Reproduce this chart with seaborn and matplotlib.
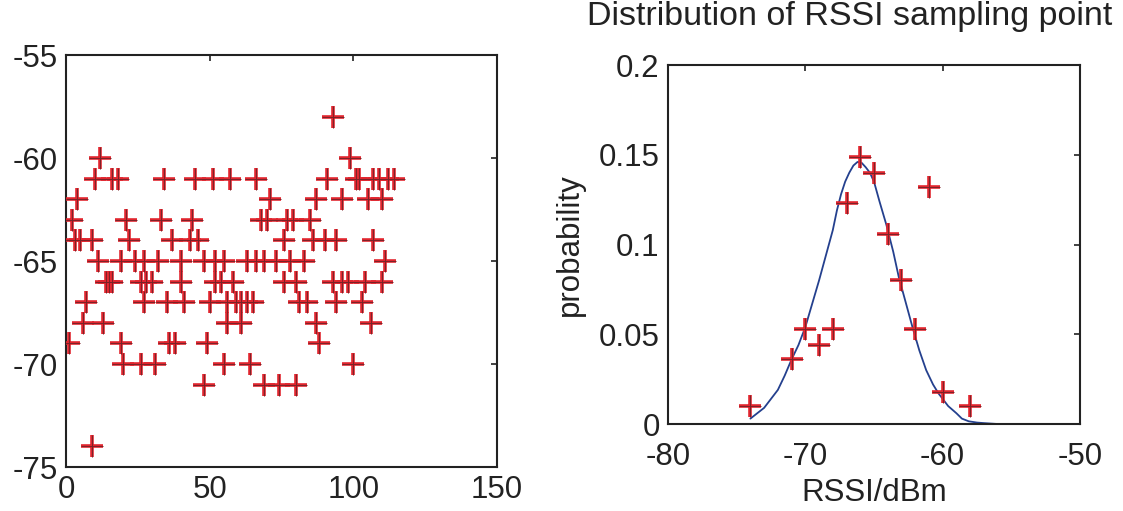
import numpy as np
import pandas as pd
import matplotlib
matplotlib.use("Agg")
import matplotlib.pyplot as plt
import seaborn as sns

# ---------------- data ----------------
# left panel: RSSI samples (sample index per RSSI level)
idx_m58 = [93]
idx_m60 = [12, 99]
idx_m61 = [10, 16, 18, 34, 45, 51, 57, 66, 91, 101, 102, 107, 109, 112, 114]
idx_m62 = [4, 71, 87, 96, 105, 110]
idx_m63 = [2, 21, 33, 44, 68, 70, 77, 79, 85]
idx_m64 = [3, 5, 9, 22, 37, 43, 46, 76, 86, 90, 94, 107]
idx_m65 = [11, 19, 24, 27, 32, 40, 48, 52, 55, 63, 66, 69, 73, 78, 83, 111]
idx_m66 = [14, 15, 16, 26, 28, 30, 40, 52, 54, 58, 76, 80, 93, 96, 98, 104, 110]
idx_m67 = [7, 27, 35, 41, 50, 56, 59, 61, 63, 65, 81, 84, 94, 103]
idx_m68 = [6, 13, 56, 61, 87, 106]
idx_m69 = [1, 19, 36, 38, 49, 88]
idx_m70 = [20, 26, 31, 55, 64, 100]
idx_m71 = [48, 69, 74, 80]
idx_m74 = [9]

# right panel: probability of each RSSI value
rssi_values = [-74, -71, -70, -69, -68, -67, -66, -65, -64, -63, -62, -61, -60, -58]
probability = [0.010, 0.036, 0.053, 0.044, 0.053, 0.123, 0.149, 0.140, 0.106, 0.080, 0.053, 0.132, 0.018, 0.010]

# fitted curve
curve_x = [-74.0, -73.5, -73.0, -72.5, -72.0, -71.5, -71.0, -70.5, -70.0, -69.5, -69.0,
           -68.5, -68.0, -67.7, -67.4, -67.1, -66.8, -66.5, -66.2, -65.9, -65.6, -65.3,
           -65.0, -64.6, -64.1, -63.6, -63.2, -62.7, -62.2, -61.7, -61.2, -60.7, -60.3,
           -59.6, -59.0, -58.6, -58.1, -57.5, -57.0, -56.0, -54.4]
curve_y = [0.003, 0.006, 0.009, 0.014, 0.019, 0.027, 0.036, 0.044, 0.054, 0.067, 0.080,
           0.094, 0.108, 0.119, 0.128, 0.135, 0.140, 0.144, 0.146, 0.1455, 0.143, 0.140,
           0.135, 0.124, 0.111, 0.096, 0.082, 0.068, 0.054, 0.041, 0.030, 0.022, 0.017,
           0.010, 0.006, 0.003, 0.0015, 0.0008, 0.0005, 0.0, 0.0]

levels = {-58: idx_m58, -60: idx_m60, -61: idx_m61, -62: idx_m62, -63: idx_m63,
          -64: idx_m64, -65: idx_m65, -66: idx_m66, -67: idx_m67, -68: idx_m68,
          -69: idx_m69, -70: idx_m70, -71: idx_m71, -74: idx_m74}
samples = pd.DataFrame([(i, lvl) for lvl, idxs in levels.items() for i in idxs],
                       columns=["index", "rssi"]).sort_values("index")
dist = pd.DataFrame({"rssi": rssi_values, "p": probability})
curve = pd.DataFrame({"x": curve_x, "y": curve_y})

# ---------------- style ----------------
sns.set_theme(style="white")
plt.rcParams["font.family"] = ["Liberation Sans", "DejaVu Sans"]
plt.rcParams["axes.unicode_minus"] = False

RED = "#e0252e"
DARK = "#7a2228"
BLUE = "#24408e"
INK = "#222222"
FS = 22.5

fig = plt.figure(figsize=(11.23, 5.11), dpi=100)
fig.patch.set_facecolor("white")
ax1 = fig.add_axes([66 / 1123, 1 - 467 / 511, (497 - 66) / 1123, (467 - 55) / 511])
ax2 = fig.add_axes([668 / 1123, 1 - 424 / 511, (1080 - 668) / 1123, (424 - 65) / 511])


def plus_marks(data, x, y, ax):
    sns.scatterplot(data=data, x=x, y=y, ax=ax, marker="+", s=260,
                    color=RED, linewidth=2.6, legend=False, zorder=3)
    sns.scatterplot(data=data, x=x, y=y, ax=ax, marker="+", s=250,
                    color=DARK, linewidth=0.7, legend=False, zorder=4)


plus_marks(samples, "index", "rssi", ax1)
ax1.set_xlim(0, 150)
ax1.set_ylim(-75, -55)
ax1.set_xticks([0, 50, 100, 150])
ax1.set_yticks([-75, -70, -65, -60, -55])

sns.lineplot(data=curve, x="x", y="y", ax=ax2, color=BLUE,
             linewidth=1.3, sort=False, estimator=None, zorder=2)
plus_marks(dist, "rssi", "p", ax2)
ax2.set_xlim(-80, -50)
ax2.set_ylim(0, 0.2)
ax2.set_xticks([-80, -70, -60, -50])
ax2.set_yticks([0, 0.05, 0.1, 0.15, 0.2])
ax2.set_yticklabels(["0", "0.05", "0.1", "0.15", "0.2"])
ax2.set_xlabel("RSSI/dBm", fontsize=FS, labelpad=4, color=INK)
ax2.set_ylabel("probability", fontsize=FS, labelpad=10, color=INK)
ax1.set_xlabel("")
ax1.set_ylabel("")
ax2.text(0.44, 1.135, "Distribution of RSSI sampling point", transform=ax2.transAxes,
         ha="center", va="center", fontsize=24.5, color=INK)

for ax in (ax1, ax2):
    ax.set_facecolor("white")
    for sp in ax.spines.values():
        sp.set_visible(True)
        sp.set_color(INK)
        sp.set_linewidth(1.5)
    ax.tick_params(direction="in", length=4, width=1.2, colors=INK,
                   top=True, right=True, labelsize=FS, pad=6)
    ax.grid(False)
ax2.tick_params(axis="x", pad=13)

fig.savefig("out.png", dpi=100, facecolor="white")
